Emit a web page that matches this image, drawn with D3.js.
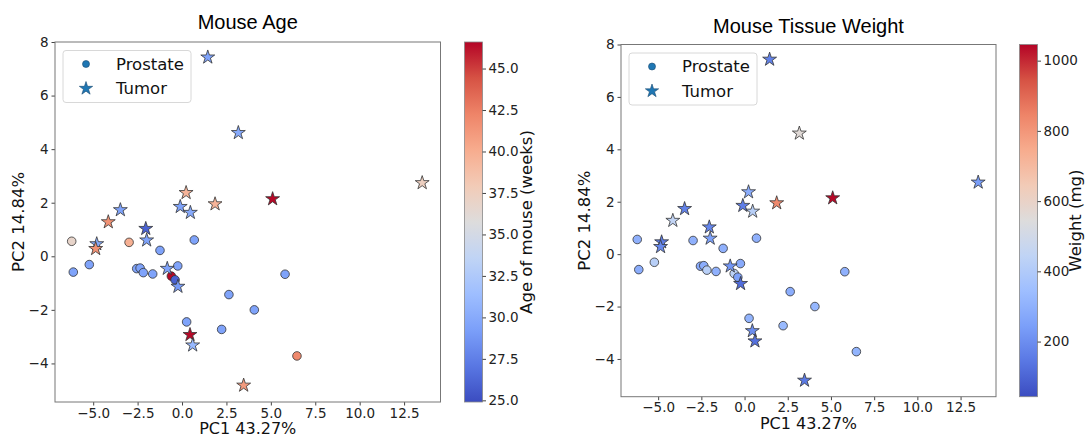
<!DOCTYPE html>
<html>
<head>
<meta charset="utf-8">
<script src="https://cdn.jsdelivr.net/npm/d3@7"></script>
<style>
  body { margin: 0; background: #fff; }
  svg { display: block; }
</style>
</head>
<body>
<div id="chart"></div>
<script>
// samples: 19 prostate then 19 tumor
const tissue = [
  "Prostate", "Prostate", "Prostate", "Prostate", "Prostate", "Prostate", "Prostate",
  "Prostate", "Prostate", "Prostate", "Prostate", "Prostate", "Prostate", "Prostate",
  "Prostate", "Prostate", "Prostate", "Prostate", "Prostate",
  "Tumor", "Tumor", "Tumor", "Tumor", "Tumor", "Tumor", "Tumor", "Tumor", "Tumor",
  "Tumor", "Tumor", "Tumor", "Tumor", "Tumor", "Tumor", "Tumor", "Tumor", "Tumor", "Tumor"
];
const pc1 = [
  -6.21, -6.12, -5.22, -2.98, -1.24, -2.55, -2.36, -2.18, -1.65, -0.24,
  -0.60, -0.39, 0.69, 0.26, 5.80, 2.64, 4.07, 2.23, 6.47,
  1.45, 3.17, 5.10, 0.23, 1.86, -0.10, 0.47, -3.47, -4.15, -4.80,
  -4.86, -2.04, -1.99, -0.83, -0.23, 0.45, 0.60, 3.47, 13.52
];
const pc2 = [
  0.56, -0.59, -0.31, 0.52, 0.22, -0.46, -0.44, -0.61, -0.66, -0.36,
  -0.74, -0.88, 0.61, -2.45, -0.67, -1.43, -2.00, -2.73, -3.72,
  7.43, 4.61, 2.14, 2.37, 1.95, 1.85, 1.63, 1.73, 1.28, 0.46,
  0.28, 1.03, 0.60, -0.46, -1.13, -2.93, -3.32, -4.82, 2.74
];
const age = [
  36.8, 29.5, 29.5, 39.8, 29.5, 29.5, 29.5, 29.5, 29.5, 29.5,
  46.5, 26.0, 29.5, 29.5, 29.5, 29.5, 29.5, 29.5, 42.0,
  29.5, 30.0, 46.5, 39.5, 39.5, 29.5, 30.0, 29.5, 41.5, 30.0,
  41.5, 26.0, 29.5, 29.5, 29.0, 46.5, 31.0, 41.0, 37.4
];
const weight = [
  300, 290, 420, 300, 300, 280, 290, 420, 300, 280,
  430, 250, 300, 310, 300, 290, 320, 330, 310,
  170, 560, 1040, 290, 830, 160, 420, 170, 450, 160,
  190, 180, 250, 220, 120, 200, 130, 150, 240
];
const xTicks = [-5, -2.5, 0, 2.5, 5, 7.5, 10, 12.5];
const yTicks = [-4, -2, 0, 2, 4, 6, 8];
const ageTicks = [25, 27.5, 30, 32.5, 35, 37.5, 40, 42.5, 45];
const weightTicks = [200, 400, 600, 800, 1000];
const legendLabels = ["Prostate", "Tumor"];

// matplotlib coolwarm
const COOLWARM = [
  "#3b4cc0", "#5977e3", "#7b9ff9", "#9ebeff", "#c0d4f5", "#dddcdc",
  "#f2cbb7", "#f7ac8e", "#ee8468", "#d65244", "#b40426"
];

const W = 1090, H = 436;
const FONT = "'DejaVu Sans', sans-serif";

const svg = d3.select("#chart").append("svg")
  .attr("width", W).attr("height", H);

const defs = svg.append("defs");

function makeCmap(lo, hi) {
  const step = (hi - lo) / (COOLWARM.length - 1);
  return d3.scaleLinear()
    .domain(COOLWARM.map((c, i) => lo + i * step))
    .range(COOLWARM)
    .interpolate(d3.interpolateRgb)
    .clamp(true);
}

const starSym = d3.symbol().type(d3.symbolStar).size(60);
const legendStar = d3.symbol().type(d3.symbolStar).size(55);

function drawPanel(p) {
  const x = d3.scaleLinear().domain([-7.15, 14.55]).range([p.left, p.right]);
  const y = d3.scaleLinear().domain([-5.44, 8.0]).range([p.bottom, p.top]);
  const cmap = makeCmap(p.cmin, p.cmax);
  const g = svg.append("g");

  // title
  g.append("text")
    .attr("x", (p.left + p.right) / 2).attr("y", p.titleY)
    .attr("text-anchor", "middle")
    .style("font-family", "'Liberation Sans', Arial, sans-serif")
    .style("font-size", "20px").style("fill", "#000")
    .text(p.title);

  // axes
  const xAxis = g.append("g")
    .attr("transform", "translate(0," + p.bottom + ")")
    .call(d3.axisBottom(x).tickValues(xTicks).tickFormat(d3.format(".1f"))
      .tickSize(3.5).tickPadding(2.5));
  const yAxis = g.append("g")
    .attr("transform", "translate(" + p.left + ",0)")
    .call(d3.axisLeft(y).tickValues(yTicks).tickFormat(d3.format("d"))
      .tickSize(3.5).tickPadding(3));
  [xAxis, yAxis].forEach(a => {
    a.select(".domain").remove();
    a.selectAll("line").attr("stroke", "#444");
    a.selectAll("text").style("font-family", FONT).style("font-size", "13.5px")
      .style("fill", "#222");
  });

  g.append("text")
    .attr("x", (p.left + p.right) / 2).attr("y", p.bottom + 32)
    .attr("text-anchor", "middle")
    .style("font-family", FONT).style("font-size", "16px").style("fill", "#111")
    .text("PC1 43.27%");
  g.append("text")
    .attr("transform", "translate(" + (p.left - 31) + "," + ((p.top + p.bottom) / 2) + ") rotate(-90)")
    .attr("text-anchor", "middle")
    .style("font-family", FONT).style("font-size", "16.5px").style("fill", "#111")
    .text("PC2 14.84%");

  // points
  const idx = d3.range(pc1.length);
  const pts = g.append("g");
  pts.selectAll("circle")
    .data(idx.filter(i => tissue[i] === "Prostate"))
    .join("circle")
    .attr("cx", i => x(pc1[i])).attr("cy", i => y(pc2[i]))
    .attr("r", 4.3)
    .attr("fill", i => cmap(p.values[i]))
    .attr("stroke", "#333").attr("stroke-width", 0.8);
  pts.selectAll("path")
    .data(idx.filter(i => tissue[i] === "Tumor"))
    .join("path")
    .attr("d", starSym)
    .attr("transform", i => "translate(" + x(pc1[i]) + "," + y(pc2[i]) + ")")
    .attr("fill", i => cmap(p.values[i]))
    .attr("stroke", "#333").attr("stroke-width", 0.8);

  // frame
  g.append("rect")
    .attr("x", p.left).attr("y", p.top)
    .attr("width", p.right - p.left).attr("height", p.bottom - p.top)
    .attr("fill", "none").attr("stroke", "#777").attr("stroke-width", 1);

  // legend
  const lg = g.append("g").attr("transform", "translate(" + (p.left + 8) + "," + (p.top + 8.5) + ")");
  lg.append("rect")
    .attr("width", 128).attr("height", 52).attr("rx", 3)
    .attr("fill", "#fff").attr("fill-opacity", 0.8)
    .attr("stroke", "#d8d8d8").attr("stroke-width", 1);
  legendLabels.forEach((lab, k) => {
    const cy = 13.5 + k * 24.5;
    if (k === 0) {
      lg.append("circle").attr("cx", 23).attr("cy", cy).attr("r", 3.5)
        .attr("fill", "#1f77b4").attr("stroke", "#1a4a70").attr("stroke-width", 0.6);
    } else {
      lg.append("path").attr("d", legendStar)
        .attr("transform", "translate(23," + cy + ")")
        .attr("fill", "#1f77b4").attr("stroke", "#1a4a70").attr("stroke-width", 0.6);
    }
    lg.append("text")
      .attr("x", 53).attr("y", cy + 5.5)
      .style("font-family", FONT).style("font-size", "16.5px").style("fill", "#111")
      .text(lab);
  });

  // colorbar
  const gradId = "grad-" + p.id;
  const grad = defs.append("linearGradient").attr("id", gradId)
    .attr("x1", 0).attr("y1", 1).attr("x2", 0).attr("y2", 0);
  d3.range(0, 1.0001, 0.05).forEach(t => {
    grad.append("stop").attr("offset", t)
      .attr("stop-color", cmap(p.cmin + t * (p.cmax - p.cmin)));
  });
  const cy = d3.scaleLinear().domain([p.cmin, p.cmax]).range([p.bottom, p.top]);
  g.append("rect")
    .attr("x", p.cbx).attr("y", p.top)
    .attr("width", 18).attr("height", p.bottom - p.top)
    .attr("fill", "url(#" + gradId + ")")
    .attr("stroke", "#888").attr("stroke-width", 0.8);
  const cAxis = g.append("g")
    .attr("transform", "translate(" + (p.cbx + 18) + ",0)")
    .call(d3.axisRight(cy).tickValues(p.cticks).tickFormat(d3.format(p.cfmt))
      .tickSize(3.5).tickPadding(2.5));
  cAxis.select(".domain").remove();
  cAxis.selectAll("line").attr("stroke", "#444");
  cAxis.selectAll("text").style("font-family", FONT).style("font-size", "13.5px")
    .style("fill", "#222");
  g.append("text")
    .attr("transform", "translate(" + p.cblx + "," + ((p.top + p.bottom) / 2) + ") rotate(-90)")
    .attr("text-anchor", "middle")
    .style("font-family", FONT).style("font-size", "16.5px").style("fill", "#111")
    .text(p.clabel);
}

drawPanel({
  id: "age", title: "Mouse Age", titleY: 29,
  left: 55, right: 440.5, top: 42, bottom: 402,
  values: age, cmin: 24.9, cmax: 46.6,
  cbx: 464.5, cticks: ageTicks, cfmt: ".1f",
  cblx: 532, clabel: "Age of mouse (weeks)"
});
drawPanel({
  id: "weight", title: "Mouse Tissue Weight", titleY: 33,
  left: 621, right: 996, top: 44.5, bottom: 396.7,
  values: weight, cmin: 43, cmax: 1046,
  cbx: 1019.5, cticks: weightTicks, cfmt: "d",
  cblx: 1081, clabel: "Weight (mg)"
});
</script>
</body>
</html>
